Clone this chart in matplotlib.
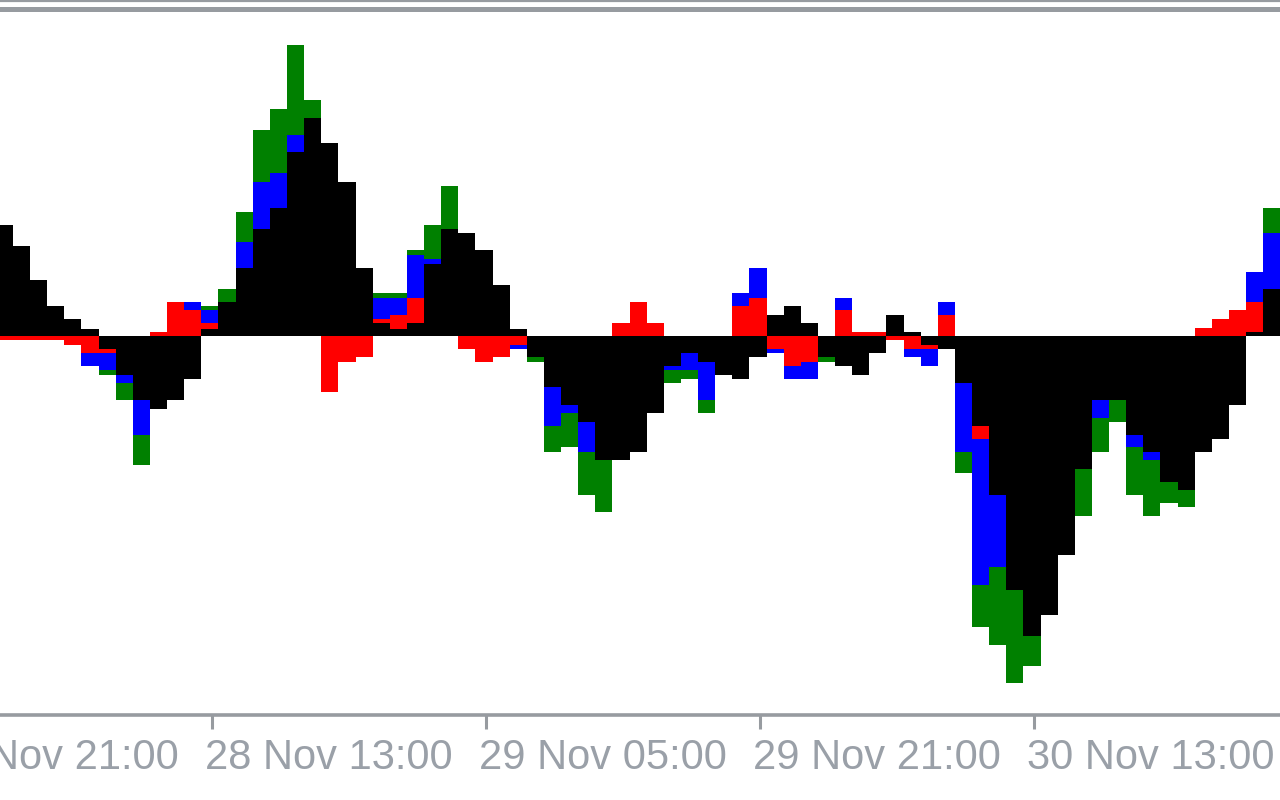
from matplotlib import pyplot as plt
from matplotlib.lines import Line2D
import numpy as np

# hourly bars, 28 Nov 01:00 onwards
black = [111, 90, 56, 30, 17, 7, -13, -39, -64, -73, -64, -43, 7, 34, 68, 107, 128, 184, 218, 193,
         154, 68, 13, 7, 13, 72, 107, 103, 86, 51, 7, -21, -51, -69, -86, -124, -124, -116, -77, -30,
         -17, -26, -39, -43, -21, 21, 30, 13, -21, -30, -39, -17, 21, 4, -9, -13, -47, -90, -159, -254,
         -300, -279, -219, -133, -64, -64, -99, -116, -146, -154, -116, -103, -69, 4, 47]
red = [-4, -4, -4, -4, -9, -17, -17, -20, -30, 4, 34, 26, 13, 20, 30, 20, 10, 5, 5, -56,
       -26, -21, 17, 21, 38, 30, 20, -13, -26, -21, -9, -5, -10, -15, -10, -5, 13, 34, 13, -10,
       -5, -10, -10, 30, 38, -13, -30, -26, -5, 26, 4, 4, -4, -13, -13, 21, -20, -103, -100, -90,
       -80, -60, -40, -30, -20, -20, -30, -25, -20, -10, 8, 17, 26, 34, 30]
blue = [60, 45, 25, 10, -5, -30, -34, -47, -99, -60, -40, 34, 26, 30, 94, 154, 163, 201, 180, 150,
        110, 50, 38, 38, 81, 77, 90, 80, 60, 30, -13, -15, -90, -77, -116, -110, -100, -80, -50, -34,
        -34, -64, -25, 43, 68, -17, -43, -43, -15, 38, -30, -10, 10, -21, -30, 34, -116, -249, -231, -200,
        -250, -220, -170, -120, -82, -60, -111, -124, -130, -140, -90, -70, -40, 64, 103]
green = [80, 60, 35, 15, -8, -25, -39, -64, -129, -70, -50, 15, 30, 47, 124, 206, 227, 291, 236, 170,
         130, 60, 43, 43, 86, 111, 150, 95, 75, 40, -10, -26, -116, -111, -159, -176, -115, -100, -65, -47,
         -43, -77, -35, 35, 50, -15, -35, -35, -26, 30, -35, -12, 15, -18, -25, 28, -137, -291, -309, -347,
         -330, -260, -200, -180, -116, -86, -159, -180, -167, -171, -110, -90, -60, 50, 128]

tick_bars = [-4, 12, 28, 44, 60]
tick_labels = ['27 Nov 21:00', '28 Nov 13:00', '29 Nov 05:00', '29 Nov 21:00', '30 Nov 13:00']

grey = '#979ba0'

fig = plt.figure(figsize=(12.8, 8), dpi=100)
ax = fig.add_axes([0, 85 / 800, 1, 704 / 800])

x = np.arange(len(black))
# drawn back to front
for vals, col in [(green, '#008000'), (blue, '#0000ff'), (red, '#ff0000'), (black, '#000000')]:
    ax.bar(x, vals, width=1.0, color=col, linewidth=0, antialiased=False)

ax.set_xlim(-0.259, 74.485)
ax.set_ylim(-379.3, 324.7)

for s in ['top', 'left', 'right']:
    ax.spines[s].set_visible(False)
ax.spines['bottom'].set_color(grey)
ax.spines['bottom'].set_linewidth(2.6)
ax.set_yticks([])
ax.set_xticks([b + 0.1 for b in tick_bars[1:]])
ax.set_xticklabels([])
ax.tick_params(axis='x', direction='out', length=10, width=2.2, color=grey)

for b, lab in zip(tick_bars, tick_labels):
    ax.annotate(lab, xy=(b + 0.1, 0), xycoords=('data', 'axes fraction'),
                xytext=(-4.5, -39), textcoords='offset points',
                ha='left', va='baseline', fontsize=30, family='Liberation Sans',
                color='#9aa0a8', annotation_clip=False)

# window border lines at the top
fig.add_artist(Line2D([0, 1], [1 - 1 / 800, 1 - 1 / 800], color=grey, linewidth=1.6))
fig.add_artist(Line2D([0, 1], [1 - 8.5 / 800, 1 - 8.5 / 800], color=grey, linewidth=3.6))

fig.savefig('out.png', dpi=100)
